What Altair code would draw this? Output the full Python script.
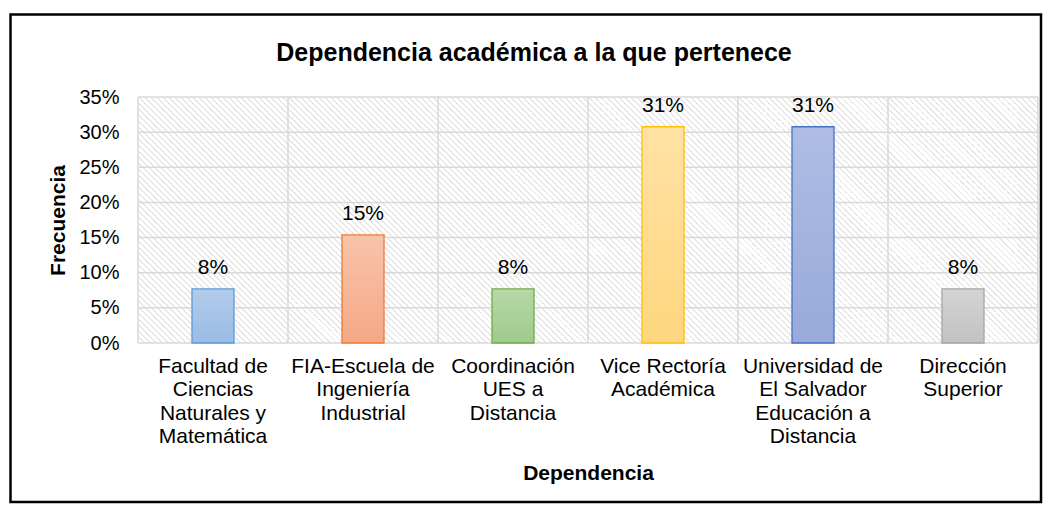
import altair as alt
import pandas as pd

# ---- data ----
categories = [
    "Facultad de\nCiencias\nNaturales y\nMatemática",
    "FIA-Escuela de\nIngeniería\nIndustrial",
    "Coordinación\nUES a\nDistancia",
    "Vice Rectoría\nAcadémica",
    "Universidad de\nEl Salvador\nEducación a\nDistancia",
    "Dirección\nSuperior",
]
values = [0.0769, 0.1538, 0.0769, 0.3077, 0.3077, 0.0769]
y_ticks = [0.0, 0.05, 0.10, 0.15, 0.20, 0.25, 0.30, 0.35]

# ---- styles ----
fill_top = ["#b2cbea", "#f8c4ab", "#b7d8a9", "#ffe2a4", "#afbde4", "#d4d4d4"]
fill_bottom = ["#9bbce5", "#f4a886", "#9fcb8b", "#ffd67f", "#97aada", "#c2c2c2"]
strokes = ["#5b9bd5", "#ed7d31", "#70ad47", "#ffc000", "#4472c4", "#a5a5a5"]

W, H = 900, 246
FONT = "Liberation Sans"
GRID = "#d9d9d9"

df = pd.DataFrame({"cat": categories, "val": values, "idx": list(range(len(categories)))})
grid_df = pd.DataFrame({"val": y_ticks})
one = pd.DataFrame({"k": [0]})

# hatch pattern as a striped linear gradient (diagonal "\" lines)
a = (W + H) / (W * W + H * H)
N = 191
frac = 0.32
HATCH = "#e6e6e6"
stops = []
for k in range(N):
    o0 = k / N
    o1 = (k + frac) / N
    o2 = (k + 1) / N
    stops += [
        alt.GradientStop(offset=o0, color=HATCH),
        alt.GradientStop(offset=o1, color=HATCH),
        alt.GradientStop(offset=o1, color="#ffffff"),
        alt.GradientStop(offset=o2, color="#ffffff"),
    ]
hatch_grad = alt.LinearGradient(gradient="linear", stops=stops, x1=0, y1=1, x2=a * W, y2=1 - a * H)

x_scale = alt.Scale(domain=categories, paddingInner=0, paddingOuter=0)
y_scale = alt.Scale(domain=[0, 0.35])

x_axis = alt.Axis(
    labelExpr="split(datum.label, '\\n')",
    labelAngle=0,
    labelFontSize=21,
    labelLineHeight=23.5,
    labelPadding=12,
    labelLimit=0,
    labelColor="#000000",
    ticks=False,
    tickSize=0,
    domain=False,
    grid=False,
    titleFontSize=21,
    titleFontWeight="bold",
    titleColor="#000000",
    titleY=130,
    titleBaseline="middle",
)
y_axis = alt.Axis(
    values=y_ticks,
    format=".0%",
    labelFontSize=20,
    labelPadding=19,
    labelColor="#000000",
    ticks=False,
    tickSize=0,
    domain=False,
    grid=False,
    titleFontSize=21,
    titleFontWeight="bold",
    titleColor="#000000",
    titleX=-80,
    titleY=123,
    titleAngle=-90,
    titleAlign="center",
    titleBaseline="middle",
)

x_enc = alt.X("cat:N", sort=categories, scale=x_scale, axis=x_axis, title="Dependencia")
y_enc = alt.Y("val:Q", scale=y_scale, axis=y_axis, title="Frecuencia")

hatch = alt.Chart(one).mark_rect(fill=hatch_grad).encode(
    x=alt.value(0), x2=alt.value(W), y=alt.value(0), y2=alt.value(H)
)

hgrid = alt.Chart(grid_df).mark_rule(color=GRID, strokeWidth=1.5).encode(y=y_enc)

vgrid = alt.Chart(df).mark_rule(color=GRID, strokeWidth=1.5).encode(
    x=alt.X("cat:N", sort=categories, scale=x_scale, axis=x_axis, title="Dependencia", bandPosition=0)
)
vedge = alt.Chart(one).mark_rule(color=GRID, strokeWidth=1.5).encode(
    x=alt.value(W), y=alt.value(0), y2=alt.value(H)
)

bars = []
for i in range(len(categories)):
    grad = alt.LinearGradient(
        gradient="linear",
        stops=[alt.GradientStop(offset=0, color=fill_top[i]), alt.GradientStop(offset=1, color=fill_bottom[i])],
        x1=0, y1=0, x2=0, y2=1,
    )
    bars.append(
        alt.Chart(df)
        .transform_filter(alt.datum.idx == i)
        .mark_bar(size=42, fill=grad, stroke=strokes[i], strokeWidth=1.3)
        .encode(x=x_enc, y=y_enc)
    )

labels = alt.Chart(df).mark_text(
    dy=-15, baseline="alphabetic", fontSize=21, font=FONT, color="#000000"
).encode(x=x_enc, y=y_enc, text=alt.Text("val:Q", format=".0%"))

border = alt.Chart(one).mark_rect(fillOpacity=0, stroke="#000000", strokeWidth=2.5).encode(
    x=alt.value(-127.5), x2=alt.value(903), y=alt.value(-82.5), y2=alt.value(405)
)

chart = (
    alt.layer(hatch, hgrid, vgrid, vedge, *bars, labels, border)
    .properties(
        width=W,
        height=H,
        padding={"left": 130, "top": 89, "right": 5, "bottom": 161},
        autosize=alt.AutoSizeParams(type="none"),
        title=alt.TitleParams(
            "Dependencia académica a la que pertenece",
            fontSize=25,
            fontWeight="bold",
            font=FONT,
            color="#000000",
            anchor="middle",
            frame="group",
            baseline="alphabetic",
            dx=-54,
            offset=-73,
        ),
    )
    .configure(font=FONT)
    .configure_view(strokeWidth=0)
)

chart.save("out.html", embed_options={"renderer": "svg", "actions": False})
